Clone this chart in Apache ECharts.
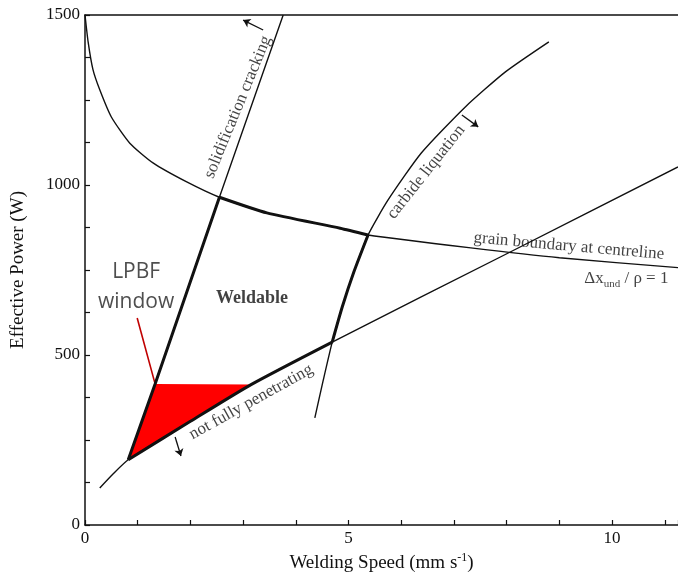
<!DOCTYPE html>
<html>
<head>
<meta charset="utf-8">
<script src="https://cdn.jsdelivr.net/npm/echarts@6/dist/echarts.min.js"></script>
<style>
  html, body { margin: 0; background: #fff; }
  #chart { width: 678px; height: 574px; }
</style>
</head>
<body>
<div id="chart"></div>
<script>
// curves, points are [welding speed mm/s, effective power W]
const grainBoundary = [[0, 1500], [0.06, 1420], [0.15, 1340], [0.28, 1280], [0.5, 1200], [0.85, 1123], [1.29, 1065], [1.93, 1009], [2.55, 964], [3.45, 918], [4.84, 873], [5.37, 853], [7.32, 815], [9, 786], [11.25, 757]];
const solidification = [[0.82, 192], [1.33, 415], [2.55, 964], [3.76, 1500]];
const notPenetrating = [[0.28, 109], [0.55, 153], [0.82, 192], [2.0, 305], [3.15, 413], [4.69, 538], [8.03, 800], [11.25, 1053]];
const carbide = [[4.36, 315], [4.52, 426], [4.69, 538], [4.88, 641], [5.1, 744], [5.37, 853], [5.75, 956], [6.38, 1094], [7.21, 1229], [7.97, 1332], [8.8, 1421]];

// bold outline of the weldable region (slices of the curves above)
const boldSolid = solidification.slice(0, 3);
const boldGrain = grainBoundary.slice(8, 12);
const boldCarbide = carbide.slice(2, 6);
const boldNfp = notPenetrating.slice(2, 6);

const lpbfWindow = [[0.82, 192], [1.33, 415], [3.15, 413]];
const pointer = [[0.99, 609], [1.33, 415]];

// small direction arrows [from, to]
const arrows = [
  [[3.38, 1456], [3.0, 1485]],
  [[7.15, 1206], [7.46, 1171]],
  [[1.71, 259], [1.82, 203]]
];

// text anchors [x, y, text, rotation deg]
const labels = [
  [2.9, 1229, 'solidification cracking', 67.6],
  [6.47, 1038, 'carbide liquation', 51.6],
  [3.15, 362, 'not fully penetrating', 29],
  [9.18, 820, 'grain boundary at centreline', -5],
  [10.27, 724, '{a|Δx}{sub|und}{a| / ρ = 1}', 0],
  [3.17, 668, '{b|Weldable}', 0],
  [0.97, 700, '{s|LPBF}\n{s|window}', 0]
];

const xTicks = { min: 0, max: 11.25 };
const yTicks = { min: 0, max: 1500, interval: 500 };

const ink = '#111';
const serif = 'Liberation Serif';

const chart = echarts.init(document.getElementById('chart'));

function curve(data, width) {
  return {
    type: 'line',
    data: data,
    symbol: 'none',
    smooth: 0.2,
    silent: true,
    lineStyle: { color: ink, width: width },
    z: 3
  };
}

const option = {
  animation: false,
  backgroundColor: '#fff',
  grid: { left: 85, right: 0, top: 15, bottom: 49, outerBoundsMode: 'none', containLabel: false },
  xAxis: [
    {
      type: 'value',
      min: xTicks.min,
      max: xTicks.max,
      interval: 5,
      position: 'bottom',
      name: '{a|Welding Speed (mm s}{sup|-1}{a|)}',
      nameLocation: 'middle',
      nameGap: 24,
      nameTextStyle: {
        rich: {
          a: { fontFamily: serif, fontSize: 19, color: ink, lineHeight: 22 },
          sup: { fontFamily: serif, fontSize: 12, color: ink, verticalAlign: 'top', lineHeight: 22 }
        }
      },
      axisLine: { lineStyle: { color: ink, width: 1.5 } },
      axisTick: { show: false },
      axisLabel: { fontFamily: serif, fontSize: 17, color: ink, margin: 5, showMaxLabel: false },
      splitLine: { show: false }
    },
    {
      type: 'value',
      min: xTicks.min,
      max: xTicks.max,
      interval: 1,
      position: 'bottom',
      axisLine: { show: false },
      axisTick: { show: true, inside: true, length: 5, lineStyle: { color: ink, width: 1.2 } },
      axisLabel: { show: false },
      splitLine: { show: false }
    },
    {
      type: 'value',
      min: xTicks.min,
      max: xTicks.max,
      position: 'top',
      axisLine: { show: true, lineStyle: { color: ink, width: 1.5 } },
      axisTick: { show: false },
      axisLabel: { show: false },
      splitLine: { show: false }
    }
  ],
  yAxis: {
    type: 'value',
    min: yTicks.min,
    max: yTicks.max,
    interval: yTicks.interval,
    name: 'Effective Power (W)',
    nameLocation: 'middle',
    nameGap: 57,
    nameTextStyle: { fontFamily: serif, fontSize: 19, color: ink },
    axisLine: { show: true, lineStyle: { color: ink, width: 1.5 } },
    axisTick: { show: true, inside: true, length: 5, lineStyle: { color: ink, width: 1.2 } },
    minorTick: { show: true, splitNumber: 4, length: 5, lineStyle: { color: ink, width: 1.2 } },
    axisLabel: { fontFamily: serif, fontSize: 17, color: ink, margin: 5, formatter: v => String(v) },
    splitLine: { show: false }
  },
  series: [
    {
      type: 'custom',
      silent: true,
      z: 1,
      data: [0],
      renderItem: function (params, api) {
        return {
          type: 'polygon',
          shape: { points: lpbfWindow.map(p => api.coord(p)) },
          style: { fill: '#ff0000' }
        };
      }
    },
    {
      type: 'line',
      data: pointer,
      symbol: 'none',
      silent: true,
      lineStyle: { color: '#c00000', width: 1.6 },
      z: 2
    },
    curve(grainBoundary, 1.4),
    curve(solidification, 1.4),
    curve(notPenetrating, 1.4),
    curve(carbide, 1.4),
    curve(boldSolid, 3),
    curve(boldGrain, 3),
    curve(boldCarbide, 3),
    curve(boldNfp, 3),
    {
      type: 'lines',
      coordinateSystem: 'cartesian2d',
      silent: true,
      symbol: ['none', 'arrow'],
      symbolSize: 7,
      lineStyle: { color: ink, width: 1.3, opacity: 1 },
      data: arrows.map(a => ({ coords: a })),
      z: 4
    },
    {
      type: 'scatter',
      silent: true,
      symbolSize: 1,
      itemStyle: { color: 'rgba(0,0,0,0)' },
      z: 5,
      data: labels.map(l => ({
        value: [l[0], l[1]],
        label: {
          show: true,
          position: 'inside',
          formatter: l[2],
          rotate: l[3],
          align: 'center',
          verticalAlign: 'middle',
          fontFamily: serif,
          fontSize: 17,
          color: ink,
          rich: {
            a: { fontFamily: serif, fontSize: 17, color: ink, lineHeight: 22 },
            sub: { fontFamily: serif, fontSize: 11, color: ink, verticalAlign: 'bottom', lineHeight: 22 },
            b: { fontFamily: serif, fontSize: 18, fontWeight: 'bold', color: ink },
            s: { fontFamily: 'Open Sans', fontSize: 21, color: '#222', lineHeight: 30 }
          }
        }
      }))
    }
  ]
};

chart.setOption(option);
</script>
</body>
</html>
